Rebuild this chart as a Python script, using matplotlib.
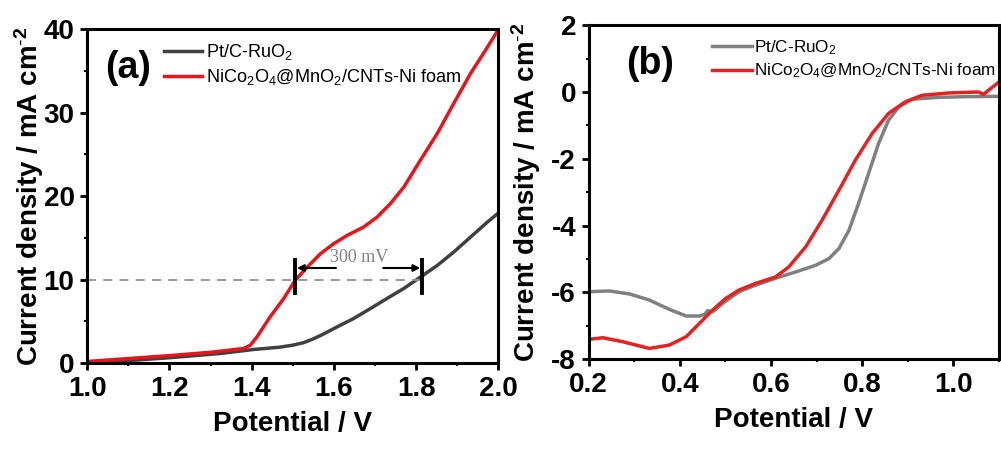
import matplotlib
matplotlib.use("Agg")
import matplotlib.pyplot as plt

plt.rcParams['font.family'] = ['Liberation Sans', 'DejaVu Sans']
plt.rcParams['mathtext.fontset'] = 'custom'
plt.rcParams['mathtext.rm'] = 'Liberation Sans'
plt.rcParams['mathtext.default'] = 'regular'
plt.rcParams['axes.unicode_minus'] = False

# panel (a): OER polarisation
va_red = [1.0, 1.1, 1.2, 1.3, 1.38, 1.397, 1.413, 1.445, 1.478, 1.506, 1.535, 1.567, 1.599, 1.632, 1.672,
          1.705, 1.737, 1.770, 1.810, 1.851, 1.891, 1.932, 1.966, 2.0]
ja_red = [0.2, 0.55, 0.9, 1.3, 1.75, 2.16, 3.15, 5.55, 7.75, 9.94, 11.5, 13.1, 14.3, 15.3, 16.3,
          17.5, 19.1, 21.1, 24.3, 27.5, 31.1, 34.7, 37.3, 40.0]
va_gray = [1.0, 1.1, 1.2, 1.324, 1.405, 1.466, 1.50, 1.526, 1.547, 1.567, 1.608, 1.648, 1.689, 1.729, 1.770,
           1.810, 1.851, 1.891, 1.932, 1.973, 2.0]
ja_gray = [0.0, 0.3, 0.65, 1.16, 1.64, 1.9, 2.15, 2.45, 2.85, 3.3, 4.35, 5.35, 6.55, 7.75, 8.95,
           10.3, 11.7, 13.3, 15.1, 16.9, 18.0]

# panel (b): ORR polarisation
vb_gray = [0.202, 0.246, 0.290, 0.333, 0.377, 0.414, 0.443, 0.455, 0.461, 0.472, 0.494, 0.530, 0.567,
           0.610, 0.654, 0.698, 0.727, 0.749, 0.771, 0.792, 0.814, 0.836, 0.858, 0.880, 0.909, 0.967, 1.03, 1.1]
jb_gray = [-5.98, -5.96, -6.05, -6.23, -6.51, -6.71, -6.71, -6.66, -6.55, -6.58, -6.33, -5.98, -5.78,
           -5.58, -5.39, -5.19, -4.99, -4.69, -4.14, -3.34, -2.44, -1.54, -0.84, -0.45, -0.22, -0.16, -0.14, -0.13]
vb_red = [0.2, 0.231, 0.275, 0.333, 0.377, 0.414, 0.443, 0.472, 0.501, 0.530, 0.567, 0.610, 0.639, 0.676,
          0.712, 0.749, 0.785, 0.822, 0.858, 0.894, 0.931, 0.989, 1.055, 1.066, 1.1]
jb_red = [-7.41, -7.36, -7.48, -7.68, -7.58, -7.33, -6.93, -6.53, -6.18, -5.93, -5.73, -5.54, -5.24, -4.64,
          -3.84, -2.94, -2.04, -1.24, -0.64, -0.30, -0.10, -0.03, 0.0, -0.07, 0.30]

lab_ref = r'Pt/C-RuO$_2$'
lab_cat = r'NiCo$_2$O$_4$@MnO$_2$/CNTs-Ni foam'
ylab = r'Current density / mA cm$^{\text{-}2}$'

fig = plt.figure(figsize=(10.01, 4.5), dpi=100)
ax1 = fig.add_axes([0.087, 0.193, 0.411, 0.742])
ax2 = fig.add_axes([0.588, 0.202, 0.410, 0.742])


def style(ax, ypad):
    for s in ax.spines.values():
        s.set_linewidth(2.2)
    ax.tick_params(which='major', direction='out', length=5, width=2, labelsize=20, pad=4)
    ax.tick_params(which='minor', direction='out', length=2.5, width=1.5)
    for t in ax.get_xticklabels() + ax.get_yticklabels():
        t.set_fontweight('bold')
    ax.set_xlabel('Potential / V', fontsize=20, fontweight='bold', labelpad=7)
    ax.set_ylabel(ylab, fontsize=20, fontweight='bold', labelpad=ypad)


# (a)
ax1.plot(va_gray, ja_gray, color='#404040', lw=2.5, label=lab_ref)
ax1.plot(va_red, ja_red, color='#e8141c', lw=2.5, label=lab_cat)
ax1.plot([1.0, 1.82], [10, 10], ls=(0, (5, 4)), color='#909090', lw=1.3)
ax1.plot([1.505, 1.505], [8.4, 12.4], color='black', lw=2.8)
ax1.plot([1.815, 1.815], [8.4, 12.4], color='black', lw=2.8)
ax1.annotate('', xy=(1.51, 11.4), xytext=(1.605, 11.4),
             arrowprops=dict(arrowstyle='-|>', color='black', lw=1.5, mutation_scale=10, shrinkA=0, shrinkB=0))
ax1.annotate('', xy=(1.81, 11.4), xytext=(1.72, 11.4),
             arrowprops=dict(arrowstyle='-|>', color='black', lw=1.5, mutation_scale=10, shrinkA=0, shrinkB=0))
ax1.text(1.662, 12.6, '300 mV', family='Liberation Serif', fontsize=13, color='#808080', ha='center', va='center')
ax1.set_xlim(1.0, 2.0)
ax1.set_ylim(0, 40)
ax1.set_xticks([1.0, 1.2, 1.4, 1.6, 1.8, 2.0])
ax1.set_xticks([1.1, 1.3, 1.5, 1.7, 1.9], minor=True)
ax1.set_yticks([0, 10, 20, 30, 40])
ax1.set_yticks([5, 15, 25, 35], minor=True)
style(ax1, -2)
ax1.text(0.10, 0.885, '(a)', transform=ax1.transAxes, fontsize=27, fontweight='bold', ha='center', va='center')
ax1.legend(loc='upper left', bbox_to_anchor=(0.155, 1.0), frameon=False, fontsize=13.1,
           handlelength=2.1, handletextpad=0.25, labelspacing=0.3, borderaxespad=0.3)

# (b)
ax2.plot(vb_gray, jb_gray, color='#808080', lw=2.5, label=lab_ref)
ax2.plot(vb_red, jb_red, color='#e52222', lw=2.5, label=lab_cat)
ax2.set_xlim(0.2, 1.1)
ax2.set_ylim(-8, 2)
ax2.set_xticks([0.2, 0.4, 0.6, 0.8, 1.0])
ax2.set_xticks([0.3, 0.5, 0.7, 0.9, 1.1], minor=True)
ax2.set_yticks([-8, -6, -4, -2, 0, 2])
ax2.set_yticks([-7, -5, -3, -1, 1], minor=True)
style(ax2, 6)
ax2.text(0.15, 0.885, '(b)', transform=ax2.transAxes, fontsize=27, fontweight='bold', ha='center', va='center')
ax2.legend(loc='upper left', bbox_to_anchor=(0.27, 1.0), frameon=False, fontsize=12.3,
           handlelength=2.3, handletextpad=0.15, labelspacing=0.3, borderaxespad=0.35)

fig.savefig('out.png', dpi=100)
